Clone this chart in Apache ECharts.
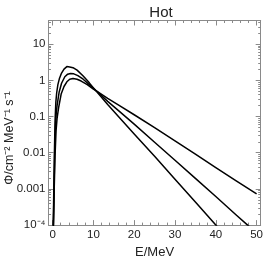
<!DOCTYPE html>
<html><head><meta charset="utf-8">
<script src="https://cdn.jsdelivr.net/npm/echarts@6/dist/echarts.min.js"></script>
<style>html,body{margin:0;padding:0;background:#fff}#c{width:266px;height:264px}</style>
</head><body><div id="c"></div>
<script>
// E in MeV
const energyA = [0.05,0.17,0.3,0.45,0.6,0.8,1.0,1.3,1.7,2.2,2.8,3.5,4.2,5,6,7.5,9,11,13.5,16.3,20,25,30,35,40,42];
const fluxA   = [1e-7,1e-4,1e-3,0.01,0.0708,0.251,0.447,0.759,1.148,1.585,2.04,2.40,2.34,2.24,1.91,1.32,0.851,0.457,0.214,0.0955,0.0331,0.00794,0.00186,4.37e-4,1e-4,5.62e-5];
const energyB = [0.05,0.2,0.35,0.5,0.7,0.9,1.1,1.6,2.2,3,3.7,4.4,5.2,6.2,7.5,9,11,13.5,16.3,20,25,30,35,40,45,47.8,50];
const fluxB   = [1e-7,1e-4,1e-3,0.00794,0.0501,0.126,0.2,0.468,0.832,1.259,1.479,1.549,1.514,1.349,1.072,0.759,0.479,0.263,0.141,0.0617,0.0195,0.00617,0.00195,6.17e-4,1.905e-4,1e-4,6.03e-5];
const energyC = [0.05,0.22,0.4,0.6,0.85,1.1,1.47,2.1,2.8,3.5,4.2,5,6,7,8.5,10,11,13.5,16.3,20,25,30,35,40,45,50];
const fluxC   = [1e-7,1e-4,1e-3,0.00794,0.0398,0.0891,0.174,0.417,0.676,0.912,1.072,1.122,1.072,0.955,0.759,0.575,0.490,0.316,0.204,0.112,0.0490,0.0214,0.00912,0.00389,0.00166,7.24e-4];

const xMajor = [0,10,20,30,40,50];
const xMinor = [2,4,6,8,12,14,16,18,22,24,26,28,32,34,36,38,42,44,46,48];
const yMajor = [1e-4,1e-3,1e-2,0.1,1,10];
const yMajorLabels = ['10⁻⁴','0.001','0.01','0.1','1','10'];
const yMinor = [2e-4,3e-4,4e-4,5e-4,6e-4,7e-4,8e-4,9e-4,
  2e-3,3e-3,4e-3,5e-3,6e-3,7e-3,8e-3,9e-3,
  0.02,0.03,0.04,0.05,0.06,0.07,0.08,0.09,
  0.2,0.3,0.4,0.5,0.6,0.7,0.8,0.9,
  2,3,4,5,6,7,8,9,20,30,40];

const titleText = 'Hot';
const xName = 'E/MeV';
const yName = 'Φ/cm⁻² MeV⁻¹ s⁻¹';

const FONT = 'Liberation Sans';
const FRAME = '#8a8a8a';
const X_MIN = -1, X_MAX = 51, Y_MIN = 1e-4, Y_MAX = 45;

function pairs(xs, ys){ return xs.map((x,i)=>[x, ys[i]]); }

function xAx(pos, vals, len, showLine, labels){
  return {type:'value', position:pos, min:X_MIN, max:X_MAX, gridIndex:0,
    axisLine:{show:showLine, onZero:false, lineStyle:{color:FRAME, width:1}},
    axisTick:{show:true, inside:true, length:len, customValues:vals, lineStyle:{color:FRAME}},
    axisLabel:{show:labels, customValues:vals, margin:4, color:'#222', fontFamily:FONT, fontSize:11.5},
    splitLine:{show:false}};
}
function yAx(pos, vals, len, showLine, labels){
  return {type:'log', logBase:10, position:pos, min:Y_MIN, max:Y_MAX, gridIndex:0,
    axisLine:{show:showLine, onZero:false, lineStyle:{color:FRAME, width:1}},
    axisTick:{show:true, inside:true, length:len, customValues:vals, lineStyle:{color:FRAME}},
    axisLabel:{show:labels, customValues:vals, margin:3, color:'#222', fontFamily:FONT, fontSize:11.5,
      formatter:function(v){ const i = yMajor.findIndex(m=>Math.abs(m-v)/m<1e-6); return i>=0?yMajorLabels[i]:''; }},
    splitLine:{show:false}};
}

const xAxes = [xAx('bottom', xMajor, 5, true, true), xAx('bottom', xMinor, 2.5, false, false),
               xAx('top', xMajor, 5, true, false), xAx('top', xMinor, 2.5, false, false)];
xAxes[0].name = xName; xAxes[0].nameLocation='middle'; xAxes[0].nameGap = 14;
xAxes[0].nameTextStyle = {fontFamily:FONT, fontSize:13, color:'#222'};
const yAxes = [yAx('left', yMajor, 5, true, true), yAx('left', yMinor, 2.5, false, false),
               yAx('right', yMajor, 5, true, false), yAx('right', yMinor, 2.5, false, false)];

function ser(xs, ys){
  return {type:'line', xAxisIndex:0, yAxisIndex:0, data:pairs(xs,ys), showSymbol:false,
    smooth:false, clip:true, lineStyle:{color:'#000', width:1.5, join:'round'}, silent:true, animation:false};
}

const chart = echarts.init(document.getElementById('c'), null, {renderer:'canvas'});
chart.setOption({
  animation:false,
  title:{text:titleText, left:156, top:0, textAlign:'center', textStyle:{fontFamily:FONT, fontSize:15, fontWeight:'normal', color:'#222'}},
  grid:{left:48.5, right:2, top:20.5, bottom:29.7, containLabel:false},
  xAxis:xAxes,
  yAxis:yAxes,
  series:[ser(energyA,fluxA), ser(energyB,fluxB), ser(energyC,fluxC)],
  graphic:[{type:'text', x:10, y:138, rotation:Math.PI/2,
    style:{text:yName, fontFamily:FONT, fontSize:12.5, fill:'#222', align:'center', verticalAlign:'middle'}}]
});
</script></body></html>
